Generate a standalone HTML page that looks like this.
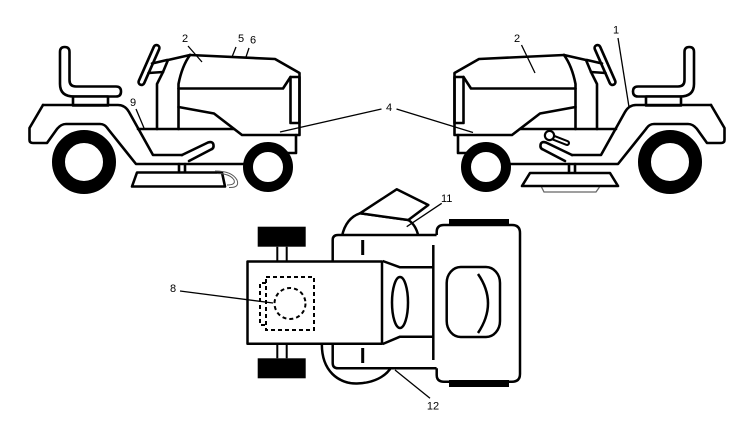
<!DOCTYPE html>
<html>
<head>
<meta charset="utf-8">
<style>
html,body{margin:0;padding:0;background:#fff;}
svg{display:block;}
text{font-family:"Liberation Sans",Arial,sans-serif;font-size:11px;fill:#000;}
</style>
</head>
<body>
<svg width="750" height="433" viewBox="0 0 750 433" xmlns="http://www.w3.org/2000/svg">
<rect width="750" height="433" fill="#fff"/>
<defs>
<g id="tr" fill="none" stroke="#000" stroke-width="2.6" stroke-linejoin="round" stroke-linecap="round">
  <!-- seat -->
  <path d="M60,84 V52 Q60,47 64.7,47 Q69.5,47 69.5,52 V80 Q69.5,86.5 76,86.5 H116 Q121,86.5 121,91.5 Q121,96.5 116,96.5 H74 Q60,96.5 60,84 Z" fill="#fff"/>
  <rect x="73" y="96.5" width="35" height="9" fill="#fff"/>
  <!-- steering wheel -->
  <line x1="156.5" y1="48" x2="141.5" y2="82" stroke-width="8.5"/>
  <line x1="156.5" y1="48" x2="141.5" y2="82" stroke="#fff" stroke-width="3.2"/>
  <line x1="152" y1="63.5" x2="167" y2="60"/>
  <line x1="148.5" y1="73" x2="163" y2="72"/>
  <!-- fender outer -->
  <path d="M43,105 H118 Q125,105 129,112 L153,155 H182"/>
  <!-- fender inner / frame lower -->
  <path d="M43,105 L29.5,128 V140 Q29.5,143 33,143 H47 L57,129 Q61,124 66,124 H100 Q105,124 108,129 L136,164 H248"/>
  <!-- frame top -->
  <path d="M138,129 H234"/>
  <!-- dash -->
  <path d="M157,129 V84 L163,72 L168,60 L190,55"/>
  <!-- hood left edge -->
  <path d="M190,55 Q182,66 178.5,84 V129"/>
  <!-- hood outline -->
  <path d="M190,55 L275,59 L299.5,73 V135 H242 L214,113.5 L178.5,107"/>
  <!-- hood side line -->
  <path d="M178.5,88.5 H283 L290.5,77"/>
  <!-- grille -->
  <rect x="290.5" y="77" width="9" height="46"/>
  <!-- front below hood -->
  <path d="M296,135 V153 H287"/>
  <!-- pedal -->
  <path d="M182,155 L208,142.5 Q213,141 213.5,145 Q214,148.5 211,149.5 L189,161"/>
  <!-- deck post -->
  <path d="M179,164 V172.5 M185,164 V172.5"/>
  <!-- wheels -->
  <circle cx="84" cy="162" r="25.5" stroke-width="13" fill="#fff"/>
  <circle cx="268" cy="167" r="20" stroke-width="10" fill="#fff"/>
</g>
</defs>

<!-- left tractor -->
<use href="#tr"/>
<!-- left deck -->
<path d="M137,172.5 H222 L225,186.5 H132 Z" fill="#fff" stroke="#000" stroke-width="2.6" stroke-linejoin="round"/>
<path d="M215,171 Q232,171 237,180 Q240,188 229,187.5 M217,173.5 Q230,173.5 234,180 Q236,185 227,185" fill="none" stroke="#555" stroke-width="1"/>

<!-- right tractor (mirror) -->
<use href="#tr" transform="matrix(-1 0 0 1 754 0)"/>
<!-- right deck -->
<path d="M541.5,187 L544,192 H596 L599.5,187" fill="none" stroke="#666" stroke-width="1.3"/>
<path d="M530,173 H610 L618,186 H522 Z" fill="#fff" stroke="#000" stroke-width="2.6" stroke-linejoin="round"/>
<!-- knob -->
<line x1="553" y1="137.5" x2="567" y2="143" stroke="#000" stroke-width="6" stroke-linecap="round"/>
<line x1="553" y1="137.5" x2="567" y2="143" stroke="#fff" stroke-width="1.8" stroke-linecap="round"/>
<circle cx="549.5" cy="135.5" r="4.6" fill="#fff" stroke="#000" stroke-width="2.2"/>

<!-- top labels and leaders -->
<g stroke="#000" stroke-width="1.3" fill="none">
  <line x1="188" y1="46" x2="202" y2="62"/>
  <line x1="236" y1="47" x2="232" y2="57"/>
  <line x1="249" y1="48" x2="246" y2="57"/>
  <line x1="136" y1="109" x2="144" y2="128"/>
  <line x1="381.5" y1="109" x2="280" y2="132"/>
  <line x1="396.5" y1="109" x2="473" y2="132.5"/>
  <line x1="521.5" y1="45" x2="535" y2="73"/>
  <line x1="618" y1="38" x2="629" y2="107"/>
</g>
<text x="185" y="42" text-anchor="middle">2</text>
<text x="241" y="42" text-anchor="middle">5</text>
<text x="253" y="43.5" text-anchor="middle">6</text>
<text x="133" y="106" text-anchor="middle">9</text>
<text x="389" y="111" text-anchor="middle">4</text>
<text x="517" y="42" text-anchor="middle">2</text>
<text x="616" y="33.5" text-anchor="middle">1</text>

<!-- top view -->
<g stroke="#000" stroke-width="2.5" stroke-linejoin="round" fill="#fff">
  <!-- bottom chute -->
  <path d="M322,340 C320,372 340,384 357,383.5 C373,383 386,377 392,366 Z"/>
  <!-- top chute dome -->
  <path d="M342,236 Q346,218 360,213.3 L408.3,220 Q416,225 418.3,236 Z"/>
  <path d="M360,213.3 L396.7,189.3 L428.3,205 L408.3,220 Z"/>
  <!-- mid body -->
  <path d="M436.7,235 H338 Q332.7,235 332.7,240 V363 Q332.7,368.3 338,368.3 H436.7"/>
  <!-- front piece -->
  <path d="M436.7,235 V232 Q436.7,225 444,225 H512 Q520,225 520,233 V374 Q520,381.7 512,381.7 H444 Q436.7,381.7 436.7,375 V368.3"/>
  <!-- inner front shape -->
  <rect x="446.7" y="267" width="53.3" height="70" rx="14" ry="16"/>
  <path d="M478,274 Q498,303 478,333" fill="none"/>
  <!-- vertical line -->
  <line x1="433.3" y1="245" x2="433.3" y2="360"/>
  <!-- neck -->
  <path d="M382.7,261 L400,267.3 H433.3 M382.7,344 L400,336.7 H433.3" fill="none"/>
  <ellipse cx="400" cy="302.5" rx="8" ry="25.5"/>
  <!-- axles -->
  <path d="M277.3,246.7 V261 M286.7,246.7 V261 M277.3,344 V358.3 M286.7,344 V358.3" fill="none" stroke-width="2"/>
  <!-- rear body -->
  <rect x="247.5" y="261.5" width="134.5" height="82.3"/>
</g>
<!-- dashes -->
<path d="M362.7,240 V255 M362.7,348 V363" stroke="#000" stroke-width="3" fill="none"/>
<!-- wheels black -->
<rect x="257.7" y="226.7" width="48" height="20" fill="#000"/>
<rect x="257.7" y="358.3" width="48" height="20" fill="#000"/>
<rect x="449" y="219" width="60" height="6.5" fill="#000"/>
<rect x="449" y="380" width="60" height="7" fill="#000"/>
<!-- dashed -->
<g stroke="#000" stroke-width="2" fill="none" stroke-dasharray="4 3">
  <rect x="266" y="277" width="48" height="53"/>
  <path d="M266,283 H260 V325 H266"/>
  <circle cx="290" cy="303.5" r="15.5"/>
</g>
<!-- top-view leaders -->
<g stroke="#000" stroke-width="1.3">
  <line x1="180" y1="291" x2="273" y2="303"/>
  <line x1="441.7" y1="203.3" x2="406.7" y2="226.7"/>
  <line x1="430" y1="398.3" x2="395" y2="370"/>
</g>
<text x="173" y="292" text-anchor="middle">8</text>
<text x="446.7" y="202" text-anchor="middle">11</text>
<text x="433" y="409.5" text-anchor="middle">12</text>
</svg>
</body>
</html>
